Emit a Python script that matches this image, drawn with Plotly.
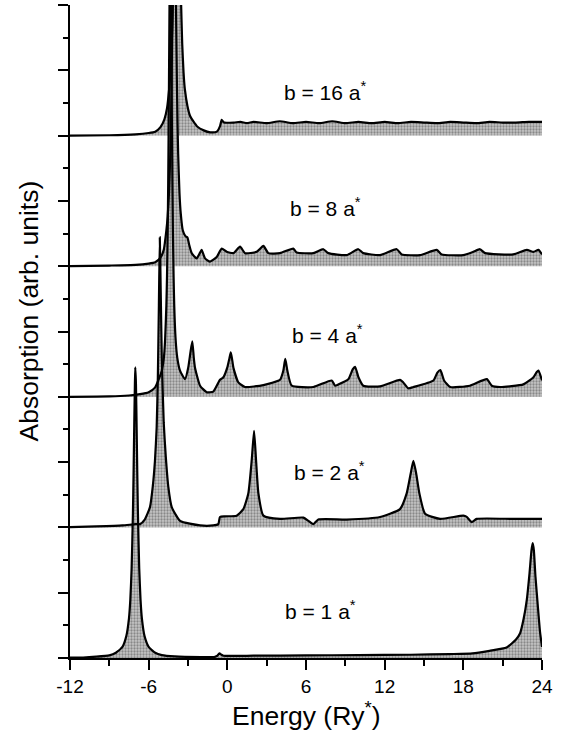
import plotly.graph_objects as go

# ---- data (energy in Ry*, absorption in arb. units above each baseline) ----
labels = ["b = 1 a<sup>*</sup>", "b = 2 a<sup>*</sup>", "b = 4 a<sup>*</sup>",
          "b = 8 a<sup>*</sup>", "b = 16 a<sup>*</sup>"]
offsets = [0, 2, 4, 6, 8]

E_b1 = [-12, -11, -10, -9, -8.5, -8, -7.7, -7.5, -7.4, -7.3, -7.2, -7.15, -7.1, -7.05, -7.02,
        -6.97, -6.92, -6.87, -6.82, -6.72, -6.62, -6.52, -6.32, -6.0, -5.5, -5, -4, -2, -1,
        -0.8, -0.6, -0.45, -0.3, 2, 6, 10, 14, 17, 18.7, 20, 21.3, 22, 22.33, 22.6, 22.84,
        23.05, 23.2, 23.29, 23.38, 23.5, 23.7, 23.85, 24]
A_b1 = [0.005, 0.008, 0.02, 0.04, 0.08, 0.17, 0.34, 0.61, 0.89, 1.37, 2.22, 2.85, 3.56, 4.2, 4.45,
        4.2, 3.56, 2.85, 2.22, 1.37, 0.89, 0.61, 0.34, 0.17, 0.08, 0.045, 0.025, 0.015, 0.015,
        0.03, 0.07, 0.05, 0.035, 0.035, 0.04, 0.045, 0.05, 0.06, 0.07, 0.11, 0.16, 0.28, 0.38, 0.6, 0.89,
        1.3, 1.65, 1.76, 1.65, 1.25, 0.75, 0.4, 0.17]

E_b2 = [-12, -10, -8, -7, -6.66, -6.3, -5.9, -5.69, -5.52, -5.39, -5.3, -5.22, -5.15, -5.08, -5.0,
        -4.85, -4.7, -4.5, -4.24, -3.6, -2.08, -1.07, -0.69, -0.56, -0.18, 0.71, 1.22, 1.6, 1.86,
        2.04, 2.19, 2.37, 2.75, 4.02, 5.8, 6.18, 6.56, 6.94, 9.1, 11.65, 13.17, 13.68, 13.99, 14.19,
        14.4, 14.65, 15.08, 16.22, 18.0, 18.26, 18.64, 19.02, 21.8, 24]
A_b2 = [0.005, 0.015, 0.03, 0.05, 0.05, 0.12, 0.31, 0.62, 1.02, 1.53, 2.3, 3.4, 4.44, 3.6, 2.6,
        1.6, 1.1, 0.62, 0.31, 0.1, 0.03, 0.03, 0.05, 0.16, 0.17, 0.18, 0.28, 0.52, 1.03,
        1.48, 1.03, 0.52, 0.18, 0.13, 0.15, 0.1, 0.05, 0.12, 0.12, 0.16, 0.28, 0.52, 0.83, 1.02,
        0.83, 0.52, 0.21, 0.13, 0.18, 0.16, 0.08, 0.13, 0.13, 0.13]

E_b4 = [-12, -9, -7.5, -6.66, -6, -5.52, -5.27, -5.0, -4.85, -4.75, -4.65, -4.6, -4.55, -4.51,
        -4.47, -4.43, -4.39, -4.35, -4.31, -4.27, -4.23, -4.19, -4.15, -4.1, -4.05, -3.95, -3.82,
        -3.61, -3.23, -2.98, -2.8, -2.67, -2.56, -2.47, -2.08, -1.57, -1.07, -0.56, -0.3, 0.0,
        0.15, 0.26, 0.36, 0.46, 0.84, 1.35, 2.75, 4.02, 4.27, 4.42, 4.58, 4.91, 6.56, 7.96, 8.22,
        8.47, 9.23, 9.56, 9.74, 10.0, 10.37, 11.65, 13.17, 13.42, 13.8, 14.19, 15.72, 16.02,
        16.25, 16.53, 17.0, 18.5, 19.79, 20.17, 20.8, 22.58, 23.35, 23.6, 23.73, 24]
A_b4 = [0, 0.005, 0.02, 0.04, 0.07, 0.14, 0.25, 0.4, 0.58, 0.86, 1.4, 1.85, 2.52, 3.27,
        4.27, 5.45, 6.53, 7.0, 6.53, 5.45, 4.27, 3.27, 2.52, 1.85, 1.4, 0.9, 0.6,
        0.4, 0.27, 0.45, 0.7, 0.85, 0.6, 0.45, 0.17, 0.07, 0.08, 0.26, 0.3, 0.45,
        0.58, 0.68, 0.58, 0.45, 0.22, 0.15, 0.18, 0.26, 0.4, 0.58, 0.4, 0.17, 0.15, 0.25, 0.17,
        0.19, 0.27, 0.42, 0.46, 0.3, 0.17, 0.16, 0.26, 0.22, 0.13, 0.15, 0.25, 0.37,
        0.41, 0.25, 0.15, 0.17, 0.27, 0.17, 0.15, 0.19, 0.3, 0.38, 0.4, 0.25]

E_b8 = [-12, -9, -7, -6, -5.5, -5.1, -4.85, -4.65, -4.55, -4.45, -4.35, -4.3, -4.25, -4.2, -4.15,
        -4.1, -4.05, -4.0, -3.95, -3.9, -3.85, -3.8, -3.75, -3.65, -3.55, -3.4, -3.2, -3.05, -2.9,
        -2.72, -2.34, -2.1, -1.96, -1.7, -1.32, -0.81, -0.43, -0.05, 0.46, 0.97, 1.35, 2.24, 2.75,
        3.13, 4.02, 5.03, 5.29, 6.56, 7.32, 7.7, 9.1, 9.99, 10.37, 11.65, 12.92, 13.3, 14.7, 15.97,
        16.35, 18.0, 18.76, 19.27, 19.66, 21.81, 22.84, 23.35, 23.73, 24]
A_b8 = [0, 0.01, 0.02, 0.04, 0.06, 0.13, 0.25, 0.55, 0.76, 1.12, 1.72, 2.2, 2.86, 3.7, 4.6,
        5.6, 6.0, 5.6, 4.6, 3.7, 2.86, 2.2, 1.72, 1.12, 0.8, 0.55, 0.46, 0.44, 0.32,
        0.2, 0.12, 0.2, 0.25, 0.12, 0.07, 0.14, 0.27, 0.22, 0.2, 0.3, 0.2, 0.22, 0.31,
        0.2, 0.2, 0.27, 0.21, 0.2, 0.26, 0.2, 0.17, 0.26, 0.2, 0.17, 0.26, 0.18, 0.17, 0.25,
        0.18, 0.17, 0.22, 0.26, 0.2, 0.18, 0.25, 0.22, 0.25, 0.18]

E_b16 = [-12, -9, -7, -6, -5.5, -5.1, -4.8, -4.6, -4.44, -4.34, -4.24, -4.14, -4.09, -4.04, -3.99,
         -3.94, -3.89, -3.84, -3.79, -3.74, -3.69, -3.64, -3.59, -3.54, -3.44, -3.34, -3.24, -3.04,
         -2.84, -2.6, -2.3, -1.8, -1.3, -0.8, -0.55, -0.43, -0.25, 0.5, 1, 1.5, 2, 3, 4, 5, 6, 7,
         8, 9, 10, 11, 12, 13, 14, 15, 16, 17, 18, 19, 20, 21, 22, 23, 24]
A_b16 = [0, 0.005, 0.02, 0.04, 0.06, 0.13, 0.25, 0.42, 0.71, 0.97, 1.4, 2.13, 2.7, 3.4, 4.3,
         5.3, 6.14, 6.5, 6.14, 5.3, 4.3, 3.4, 2.7, 2.13, 1.4, 0.97, 0.71, 0.45,
         0.3, 0.22, 0.14, 0.08, 0.05, 0.06, 0.15, 0.24, 0.2, 0.2, 0.21, 0.19, 0.21, 0.19, 0.22, 0.19,
         0.21, 0.19, 0.22, 0.19, 0.21, 0.19, 0.21, 0.19, 0.21, 0.2, 0.19, 0.21, 0.2, 0.19, 0.21,
         0.2, 0.2, 0.21, 0.21]

series_E = [E_b1, E_b2, E_b4, E_b8, E_b16]
series_A = [A_b1, A_b2, A_b4, A_b8, A_b16]
label_x = [4.25, 4.93, 4.78, 4.63, 4.17]
label_y = [0.74, 2.86, 4.96, 6.9, 8.68]

x_ticks = [-12, -6, 0, 6, 12, 18, 24]

FONT = "Liberation Sans, Arial, Helvetica, sans-serif"
SPLINE = dict(shape="spline", smoothing=0.5)

fig = go.Figure()

# grey halftone fills: invisible baseline, then the spectrum filled down to it
for E, A, off in zip(series_E, series_A, offsets):
    fig.add_trace(go.Scatter(
        x=[E[0], E[-1]], y=[off, off], mode="lines", line=dict(width=0),
        hoverinfo="skip", showlegend=False))
    fig.add_trace(go.Scatter(
        x=E, y=[a + off for a in A], mode="lines", line=dict(width=0, **SPLINE), fill="tonexty",
        fillcolor="#b4b4b4",
        fillpattern=dict(shape=".", fgcolor="#4a4a4a", bgcolor="#c6c6c6", size=3, solidity=0.45),
        hoverinfo="skip", showlegend=False))

# black spectra lines on top
for E, A, off in zip(series_E, series_A, offsets):
    fig.add_trace(go.Scatter(
        x=E, y=[a + off for a in A], mode="lines",
        line=dict(color="black", width=2.2, **SPLINE), showlegend=False))

for txt, lx, ly in zip(labels, label_x, label_y):
    fig.add_annotation(x=lx, y=ly, text=txt, showarrow=False, xanchor="left", yanchor="middle",
                       font=dict(family=FONT, size=21, color="black"))

fig.add_annotation(x=0, y=0.5, xref="paper", yref="paper", text="Absorption (arb. units)",
                   textangle=-90, showarrow=False, xanchor="center", yanchor="middle", xshift=-42,
                   yshift=20, font=dict(family=FONT, size=26.5, color="black"))
fig.add_annotation(x=0.5, y=0, xref="paper", yref="paper", text="Energy (Ry<sup>*</sup>)",
                   showarrow=False, xanchor="center", yanchor="top", yshift=-37,
                   font=dict(family=FONT, size=26.5, color="black"))

fig.update_layout(
    width=567, height=734,
    margin=dict(l=70, r=25, t=5, b=76),
    paper_bgcolor="white", plot_bgcolor="white",
    font=dict(family=FONT, color="black"),
    xaxis=dict(range=[-12, 24], tickvals=x_ticks, ticktext=[str(t) for t in x_ticks],
               showgrid=False, zeroline=False, showline=True, linecolor="black", linewidth=2,
               ticks="outside", ticklen=10, tickwidth=2, tickcolor="black",
               tickfont=dict(family=FONT, size=19, color="black"),
               minor=dict(ticks="outside", ticklen=6, tickwidth=2, tickcolor="black", dtick=3,
                          tick0=-12, showgrid=False)),
    yaxis=dict(range=[0, 10], dtick=1, tick0=0, showticklabels=False,
               showgrid=False, zeroline=False, showline=True, linecolor="black", linewidth=2,
               ticks="outside", ticklen=10, tickwidth=2, tickcolor="black",
               minor=dict(ticks="outside", ticklen=5, tickwidth=2, tickcolor="black", dtick=0.5,
                          tick0=0, showgrid=False)),
)

fig.write_html("out.html")
